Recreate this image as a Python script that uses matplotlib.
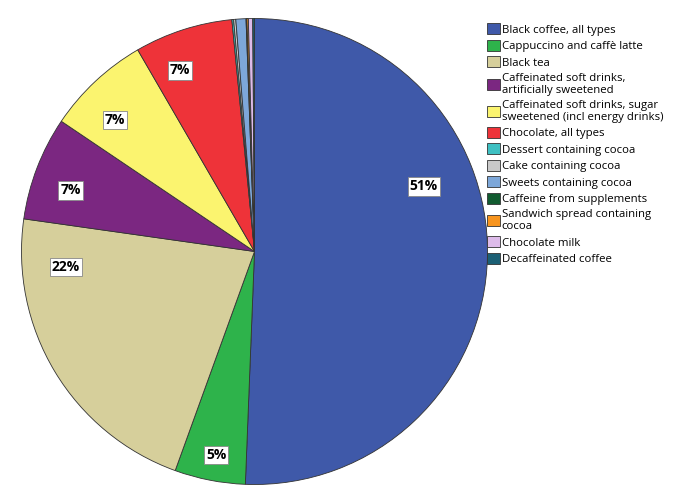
import matplotlib
matplotlib.use("Agg")
import matplotlib.pyplot as plt
import numpy as np

categories = [
    "Black coffee, all types",
    "Cappuccino and caffè latte",
    "Black tea",
    "Caffeinated soft drinks,\nartificially sweetened",
    "Caffeinated soft drinks, sugar\nsweetened (incl energy drinks)",
    "Chocolate, all types",
    "Dessert containing cocoa",
    "Cake containing cocoa",
    "Sweets containing cocoa",
    "Caffeine from supplements",
    "Sandwich spread containing\ncocoa",
    "Chocolate milk",
    "Decaffeinated coffee",
]
values = [50.6, 4.9, 21.7, 7.2, 7.2, 6.8, 0.12, 0.15, 0.7, 0.06, 0.1, 0.3, 0.12]
colors = ["#3F59A9", "#2EB34B", "#D6CF9B", "#7B2781", "#FBF46F", "#EE3339",
          "#3EC0C2", "#C9C9C9", "#7DA7D9", "#115B30", "#F7941E", "#DDBBEA", "#1B5F74"]
# label positions (in pie-radius units) for the labelled slices
label_pos = {0: (0.727, 0.279), 1: (-0.165, -0.873), 2: (-0.809, -0.067),
             3: (-0.788, 0.262), 4: (-0.599, 0.564), 5: (-0.320, 0.777)}

plt.rcParams['font.family'] = ['Open Sans', 'DejaVu Sans']

fig = plt.figure(figsize=(6.85, 5.04), dpi=100)
W, H = 685, 504
cx, cy, R = 254.5, 251.5, 233
ax = fig.add_axes([(cx - R) / W, (H - cy - R) / H, 2 * R / W, 2 * R / H])
wedges, _ = ax.pie(values, colors=colors, startangle=90, counterclock=False,
                   radius=1, wedgeprops=dict(edgecolor="#333333", linewidth=0.6))
ax.set_xlim(-1, 1)
ax.set_ylim(-1, 1)
ax.set_aspect('equal')
ax.axis('off')

total = sum(values)
for i, (x, y) in label_pos.items():
    pct = round(values[i] / total * 100)
    ax.text(x, y, f"{pct}%", ha='center', va='center', fontsize=10, fontweight='bold',
            bbox=dict(boxstyle='square,pad=0.16', facecolor='white', edgecolor='#888888', linewidth=0.6))

leg = fig.legend(wedges, categories, loc='upper left',
                 bbox_to_anchor=(487 / W, 1 - 23.5 / H), frameon=False,
                 fontsize=8.2, handlelength=1.1, handleheight=1.1, handletextpad=0.2,
                 labelspacing=0.36, borderpad=0, borderaxespad=0)
for t in leg.get_texts():
    t.set_linespacing(1.12)
for h in leg.legend_handles:
    h.set_edgecolor('#333333')
    h.set_linewidth(0.6)

fig.savefig("out.png", dpi=100)
